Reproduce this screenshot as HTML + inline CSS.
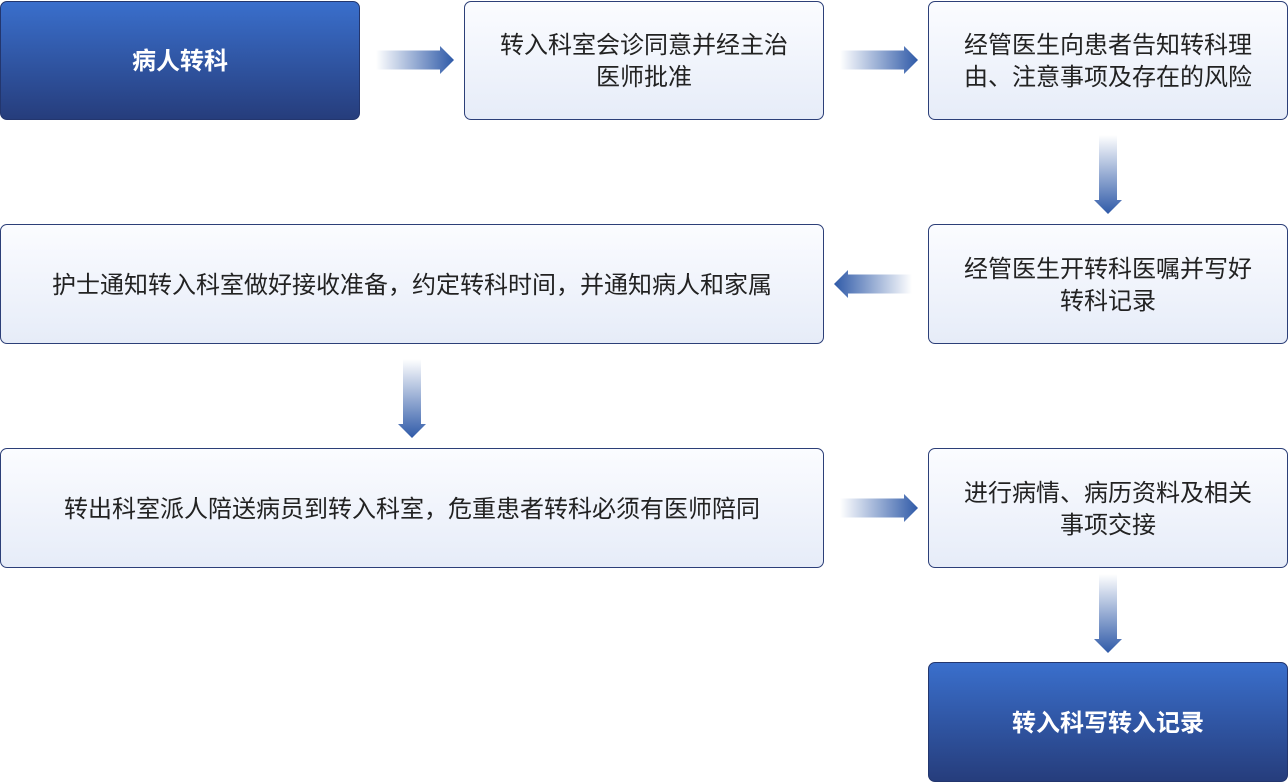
<!DOCTYPE html>
<html><head><meta charset="utf-8"><style>
body{margin:0;width:1288px;height:782px;background:#fff;position:relative;overflow:hidden;font-family:"Liberation Sans","Noto Sans CJK SC",sans-serif}
.b{position:absolute;box-sizing:border-box;border:1.5px solid #2c3f78;border-radius:7px;display:flex;align-items:center;justify-content:center;text-align:center;font-size:24px;line-height:32px;color:#222;background:linear-gradient(#fbfcff,#e6ecf8);padding-top:3px}
.d{background:linear-gradient(#3a6fcc,#263d7c);color:#fff;font-weight:bold;border-color:#23366e}
svg{position:absolute;left:0;top:0}
</style></head><body>
<div class="b d" style="left:0;top:1px;width:360px;height:119px">病人转科</div>
<div class="b" style="left:464px;top:1px;width:360px;height:119px">转入科室会诊同意并经主治<br>医师批准</div>
<div class="b" style="left:928px;top:1px;width:360px;height:119px">经管医生向患者告知转科理<br>由、注意事项及存在的风险</div>
<div class="b" style="left:0;top:224px;width:824px;height:120px">护士通知转入科室做好接收准备，约定转科时间，并通知病人和家属</div>
<div class="b" style="left:928px;top:224px;width:360px;height:120px">经管医生开转科医嘱并写好<br>转科记录</div>
<div class="b" style="left:0;top:448px;width:824px;height:120px">转出科室派人陪送病员到转入科室，危重患者转科必须有医师陪同</div>
<div class="b" style="left:928px;top:448px;width:360px;height:120px">进行病情、病历资料及相关<br>事项交接</div>
<div class="b d" style="left:928px;top:662px;width:360px;height:120px">转入科写转入记录</div>
<svg width="1288" height="782">
<defs>
<linearGradient id="r" x1="0" x2="1" y1="0" y2="0"><stop offset="0" stop-color="#2f5aa8" stop-opacity="0"/><stop offset="1" stop-color="#2f5aa8"/></linearGradient>
<linearGradient id="l" x1="1" x2="0" y1="0" y2="0"><stop offset="0" stop-color="#2f5aa8" stop-opacity="0"/><stop offset="1" stop-color="#2f5aa8"/></linearGradient>
<linearGradient id="dn" x1="0" x2="0" y1="0" y2="1"><stop offset="0" stop-color="#2f5aa8" stop-opacity="0"/><stop offset="1" stop-color="#2f5aa8"/></linearGradient>
<g id="ra"><path d="M0,-9.5H64V-14L78,0L64,14V9.5H0Z" fill="url(#r)"/></g>
<g id="da"><path d="M-9,0V65H-14L0,79L14,65H9V0Z" fill="url(#dn)"/></g>
</defs>
<use href="#ra" x="376" y="60"/>
<use href="#ra" x="840" y="60"/>
<use href="#ra" x="840" y="508"/>
<path d="M912,274.5H848V270L834,284L848,298V293.5H912Z" fill="url(#l)"/>
<use href="#da" x="1108" y="135"/>
<use href="#da" x="412" y="359"/>
<use href="#da" x="1108" y="574"/>
</svg>
</body></html>
